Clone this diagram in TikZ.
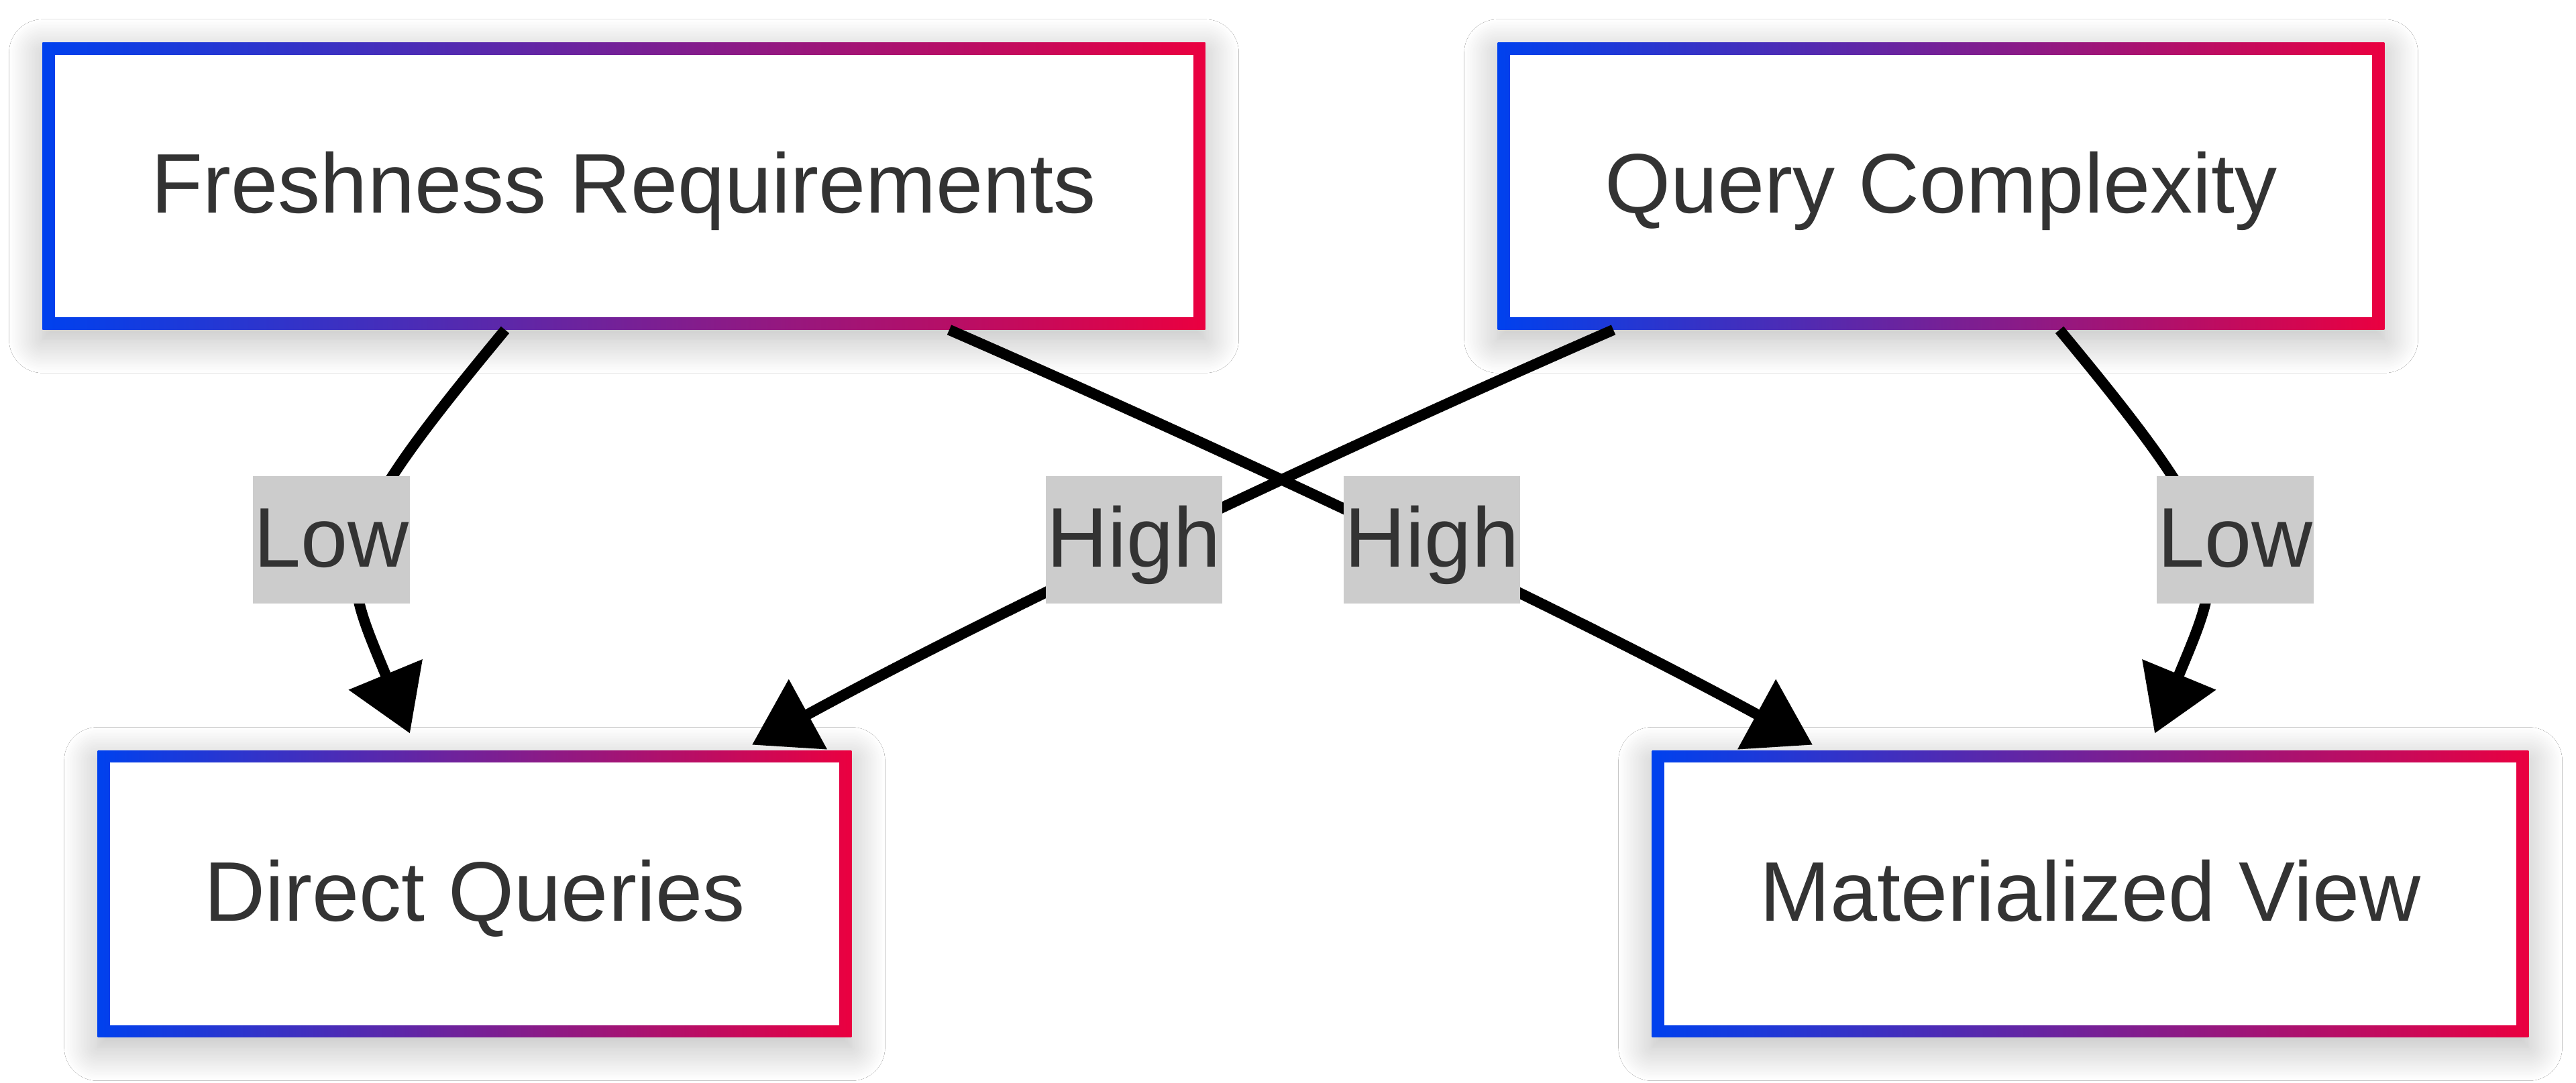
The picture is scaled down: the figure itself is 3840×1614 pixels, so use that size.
\documentclass[tikz,border=0pt]{standalone}
\usepackage{fontspec}
\setmainfont{Liberation Sans}
\usepackage{tikz}
\usetikzlibrary{arrows.meta, positioning, calc, shadows.blur}
\definecolor{gradblue}{HTML}{0041EE}
\definecolor{gradred}{HTML}{EA0040}
\definecolor{txtgray}{HTML}{333333}
\definecolor{lblgray}{HTML}{CCCCCC}

\begin{document}
\begin{tikzpicture}[x=0.01cm, y=-0.01cm,
  box/.style={rectangle, fill=white, inner sep=0pt, minimum height=4.27cm,
    font=\fontsize{35.85pt}{43pt}\selectfont, text=txtgray,
    text height=0.9cm, text depth=0.1cm,
    blur shadow={shadow xshift=0cm, shadow yshift=-0.15cm, shadow blur radius=0.5cm, shadow blur steps=24, shadow opacity=28},
    path picture={
      \shade[left color=gradblue, right color=gradred] (path picture bounding box.south west) rectangle (path picture bounding box.north east);
      \fill[white] ([shift={(0.18cm,0.18cm)}]path picture bounding box.south west) rectangle ([shift={(-0.18cm,-0.18cm)}]path picture bounding box.north east);
    }},
  lbl/.style={fill=lblgray, text=txtgray, inner xsep=0.015cm, inner ysep=0pt, minimum height=1.9cm,
    font=\fontsize{35.85pt}{43pt}\selectfont, text height=0.9cm, text depth=0.1cm},
  flow/.style={line width=0.16cm, draw=black, -{Triangle[length=0.95cm, width=1.15cm]}}]
\path[use as bounding box, fill=white] (0,0) rectangle (3840,1614);

% Decision inputs
\node[box, minimum width=17.32cm] (fresh) at (930,277.5) {Freshness Requirements};
\node[box, minimum width=13.21cm] (query) at (2893.5,277.5) {Query Complexity};
% Outcomes
\node[box, minimum width=11.23cm] (direct) at (707.5,1333) {Direct Queries};
\node[box, minimum width=13.06cm] (matview) at (3116,1333) {Materialized View};

% Edges
\draw[flow] ($(fresh.south)+(-177,0)$) .. controls +(-268,323) and +(-107,-259) .. ($(direct.north)+(-96.5,-25)$);
\draw[flow] ($(fresh.south)+(485,0)$) .. controls +(394,172) and +(-377,-206) .. ($(matview.north)+(-414,-8)$);
\draw[flow] ($(query.south)+(-488.5,0)$) .. controls +(-394,172) and +(377,-206) .. ($(direct.north)+(413.5,-8)$);
\draw[flow] ($(query.south)+(176.5,0)$) .. controls +(268,323) and +(107,-259) .. ($(matview.north)+(96,-25)$);

% Edge labels
\node[lbl] (lowfresh) at (494,805) {Low};
\node[lbl] (highquery) at (1690.5,805) {High};
\node[lbl] (highfresh) at (2134.5,805) {High};
\node[lbl] (lowquery) at (3332,805) {Low};
\end{tikzpicture}
\end{document}
